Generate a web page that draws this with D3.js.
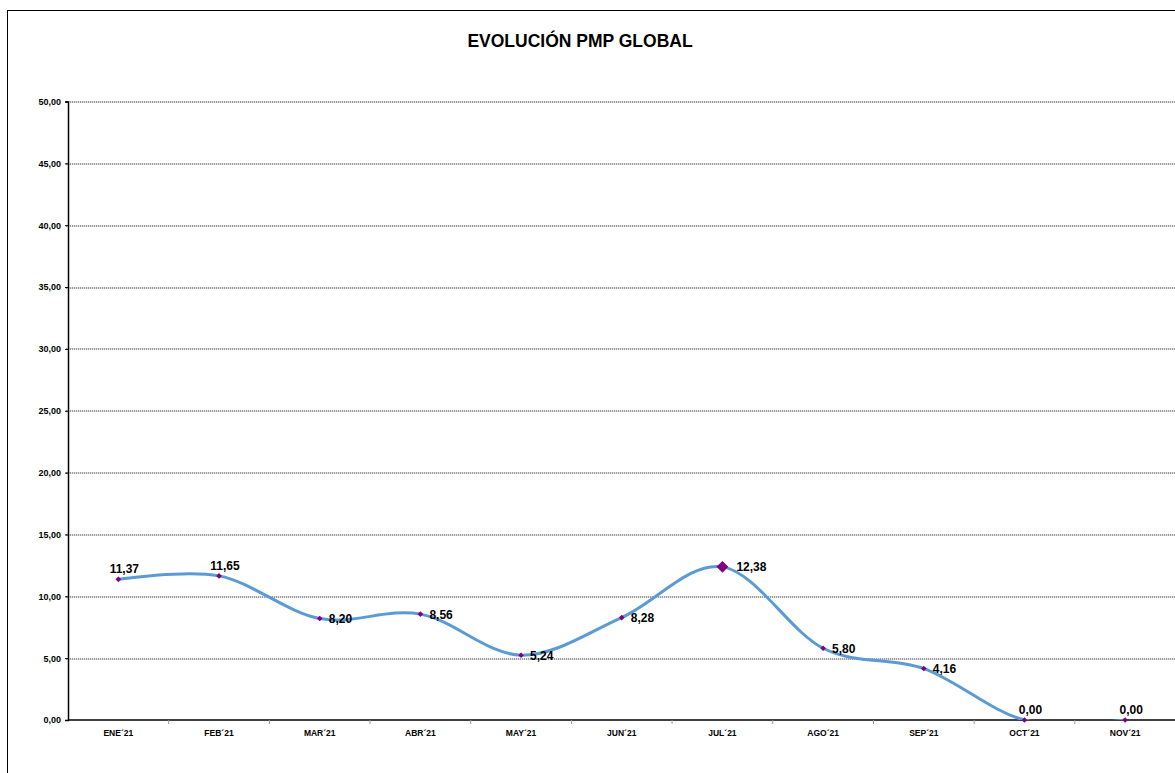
<!DOCTYPE html>
<html>
<head>
<meta charset="utf-8">
<script src="https://cdn.jsdelivr.net/npm/d3@7"></script>
<style>
  body { margin: 0; background: #fff; }
  text { font-family: Arial, "Liberation Sans", sans-serif; }
</style>
</head>
<body>
<div id="canvas"></div>
<script>
// data
var months = ["ENE´21", "FEB´21", "MAR´21", "ABR´21", "MAY´21", "JUN´21", "JUL´21", "AGO´21", "SEP´21", "OCT´21", "NOV´21"];
var pmp = [11.37, 11.65, 8.20, 8.56, 5.24, 8.28, 12.38, 5.80, 4.16, 0.00, 0.00];
var labelPos = ["top", "top", "right", "right", "right", "right", "right", "right", "right", "top", "top"];
var yTicks = [0, 5, 10, 15, 20, 25, 30, 35, 40, 45, 50];
var chartTitle = "EVOLUCIÓN PMP GLOBAL";

var winWidth = 1175, winHeight = 773;
var margin = {top: 101.5, right: 0, bottom: 53, left: 68};
var width = winWidth - margin.left - margin.right,
    height = winHeight - margin.top - margin.bottom;

var fmt = function(v) { return d3.format(".2f")(v).replace(".", ","); };

var svg = d3.select("#canvas").append("svg")
  .attr("width", winWidth)
  .attr("height", winHeight);

// outer chart border (runs off right and bottom)
svg.append("rect")
  .attr("x", 7.5).attr("y", 10.5)
  .attr("width", 1200).attr("height", 800)
  .attr("fill", "none").attr("stroke", "#000").attr("stroke-width", 1);

svg.append("text")
  .attr("x", 580).attr("y", 47)
  .attr("text-anchor", "middle")
  .attr("font-size", "17.5px").attr("font-weight", "bold")
  .text(chartTitle);

var g = svg.append("g")
  .attr("transform", "translate(" + margin.left + "," + margin.top + ")");

var x = d3.scaleBand().domain(months).range([0, 1107.5]).padding(0);
var y = d3.scaleLinear().domain([0, 50]).range([height, 0]);

g.append("defs").append("clipPath").attr("id", "clip")
  .append("rect").attr("x", 0).attr("y", -5).attr("width", width).attr("height", height + 5);

// gridlines
g.append("g")
  .selectAll("line")
  .data(yTicks.filter(function(d) { return d > 0; }))
  .enter().append("line")
  .attr("x1", -2).attr("x2", width)
  .attr("y1", function(d) { return Math.round(y(d)) + 0.5; })
  .attr("y2", function(d) { return Math.round(y(d)) + 0.5; })
  .attr("stroke", "#7f7f7f").attr("stroke-width", 1.3)
  .attr("stroke-dasharray", "1.3,0.7");

// y axis
var yAxis = d3.axisLeft(y).tickValues(yTicks).tickSize(3).tickPadding(4).tickFormat(fmt);
var gY = g.append("g").call(yAxis);
gY.select(".domain").attr("stroke", "#000").attr("stroke-width", 1.5);
gY.selectAll("text").attr("font-size", "9px").attr("font-weight", "bold").attr("fill", "#000")
  .attr("font-family", "Arial, 'Liberation Sans', sans-serif");

// x axis
var gX = g.append("g").attr("transform", "translate(0," + height + ")");
gX.append("line").attr("x1", 0).attr("x2", width).attr("stroke", "#000").attr("stroke-width", 1.5);
gX.selectAll(".tk")
  .data(months.slice(1).concat(["end"]))
  .enter().append("line")
  .attr("class", "tk")
  .attr("x1", function(d, i) { return x.bandwidth() * (i + 1); })
  .attr("x2", function(d, i) { return x.bandwidth() * (i + 1); })
  .attr("y1", 0).attr("y2", 4)
  .attr("stroke", "#999");
gX.selectAll(".lbl")
  .data(months)
  .enter().append("text")
  .attr("x", function(d) { return x(d) + x.bandwidth() / 2; })
  .attr("y", 15.5)
  .attr("text-anchor", "middle")
  .attr("font-size", "8.5px").attr("font-weight", "bold")
  .text(function(d) { return d; });

// smoothed line
var line = d3.line()
  .x(function(d, i) { return x(months[i]) + x.bandwidth() / 2; })
  .y(function(d) { return y(d); })
  .curve(d3.curveCardinal.tension(0));

g.append("path")
  .datum(pmp)
  .attr("clip-path", "url(#clip)")
  .attr("d", line)
  .attr("fill", "none")
  .attr("stroke", "#5b9bd5")
  .attr("stroke-width", 3);

// markers
var diamond = d3.symbol().type(d3.symbolDiamond2);
g.selectAll(".mk")
  .data(pmp)
  .enter().append("path")
  .attr("class", "mk")
  .attr("transform", function(d, i) {
    return "translate(" + (x(months[i]) + x.bandwidth() / 2) + "," + y(d) + ")";
  })
  .attr("d", function(d) { return diamond.size(d === d3.max(pmp) ? 90 : 20)(); })
  .attr("fill", "#800080");

// data labels
g.selectAll(".dl")
  .data(pmp)
  .enter().append("text")
  .attr("class", "dl")
  .attr("x", function(d, i) {
    var cx = x(months[i]) + x.bandwidth() / 2;
    if (labelPos[i] === "top") return cx + 6;
    return cx + (d === d3.max(pmp) ? 14 : 9);
  })
  .attr("y", function(d, i) { return labelPos[i] === "top" ? y(d) - 6 : y(d) + 4.5; })
  .attr("text-anchor", function(d, i) { return labelPos[i] === "top" ? "middle" : "start"; })
  .attr("font-size", "12px").attr("font-weight", "bold")
  .text(fmt);
</script>
</body>
</html>
